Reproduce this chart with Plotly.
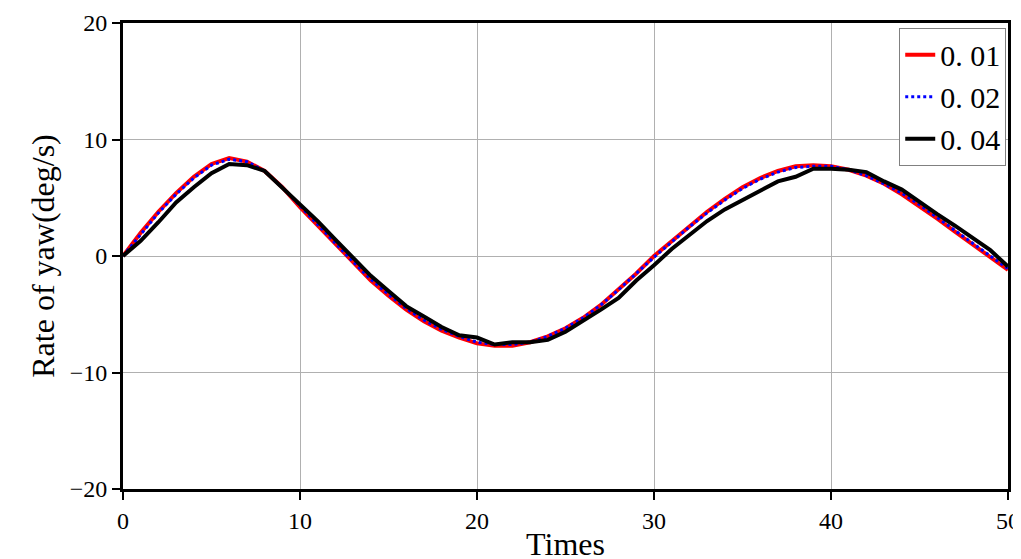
import plotly.graph_objects as go

x = list(range(51))
y001 = [0,2,3.8,5.4,6.8,7.9,8.4,8.1,7.3,5.9,4.2,2.6,1.0,-0.6,-2.1,-3.4,-4.6,-5.6,-6.4,-7.0,-7.5,-7.7,-7.7,-7.4,-6.9,-6.2,-5.3,-4.2,-2.9,-1.5,0,1.3,2.6,3.8,4.9,5.9,6.7,7.3,7.7,7.8,7.7,7.4,6.9,6.2,5.3,4.3,3.2,2.1,1.0,-0.1,-1.2]
y002 = [0,1.9,3.7,5.3,6.7,7.8,8.3,8.1,7.3,5.9,4.3,2.7,1.1,-0.5,-2.0,-3.3,-4.5,-5.5,-6.3,-6.9,-7.4,-7.6,-7.6,-7.4,-6.9,-6.2,-5.3,-4.2,-2.9,-1.5,-0.1,1.2,2.5,3.7,4.8,5.8,6.6,7.2,7.6,7.7,7.7,7.4,6.9,6.2,5.4,4.4,3.3,2.2,1.1,0.0,-1.1]
y004 = [0,1.3,2.9,4.6,5.9,7.1,7.9,7.8,7.3,5.9,4.5,3.0,1.4,-0.1,-1.7,-3.0,-4.3,-5.2,-6.1,-6.8,-7.0,-7.6,-7.4,-7.4,-7.2,-6.5,-5.6,-4.6,-3.6,-2.1,-0.8,0.6,1.8,3.0,4.0,4.8,5.6,6.4,6.8,7.5,7.5,7.4,7.2,6.4,5.7,4.6,3.6,2.6,1.5,0.5,-0.9]
names = ["0. 01", "0. 02", "0. 04"]

fig = go.Figure()
fig.add_trace(go.Scatter(x=x, y=y001, name=names[0], mode="lines", line=dict(color="#ff0000", width=4)))
fig.add_trace(go.Scatter(x=x, y=y002, name=names[1], mode="lines", line=dict(color="#0000ff", width=3, dash="dot")))
fig.add_trace(go.Scatter(x=x, y=y004, name=names[2], mode="lines", line=dict(color="#000000", width=4)))

font = "Liberation Serif, Times New Roman, serif"
ax = dict(showline=True, linecolor="black", linewidth=3, mirror=True, ticks="outside", ticklen=8,
          tickwidth=2, tickcolor="black", showgrid=True, gridcolor="#b0b0b0", gridwidth=1,
          zeroline=False, automargin=False, tickfont=dict(size=24, family=font, color="black"))
fig.update_layout(
    width=1021, height=559, plot_bgcolor="white", paper_bgcolor="white",
    margin=dict(l=115, r=21, t=15, b=78),
    xaxis=dict(range=[0, 50], dtick=10, title=dict(text="Times", font=dict(size=32, family=font, color="black"), standoff=0), **ax),
    yaxis=dict(range=[-20, 20], dtick=10, title=dict(text="Rate of yaw(deg/s)", font=dict(size=32, family=font, color="black"), standoff=6), **ax),
    legend=dict(x=0.998, y=0.99, xanchor="right", yanchor="top", bordercolor="#808080", borderwidth=1,
                bgcolor="white", font=dict(size=30, family=font, color="black"), tracegroupgap=0),
)
fig.write_html("out.html")
